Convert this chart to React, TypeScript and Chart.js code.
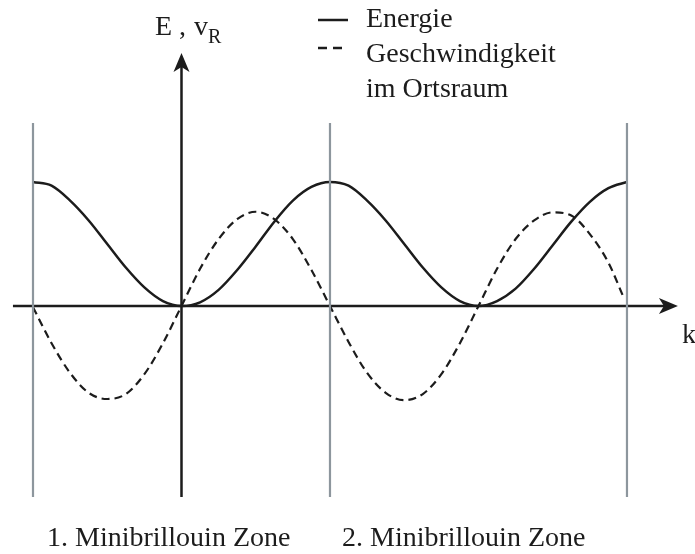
import React, { useEffect, useRef } from "react";
import { Chart, registerables } from "chart.js";

Chart.register(...registerables);

// wave vector k (in units of pi/a)
const K_E = [
  -1, -0.875, -0.75, -0.625, -0.5, -0.375, -0.25, -0.125, 0,
  0.125, 0.25, 0.375, 0.5, 0.625, 0.75, 0.875, 1,
  1.125, 1.25, 1.375, 1.5, 1.625, 1.75, 1.875, 2,
  2.125, 2.25, 2.375, 2.5, 2.625, 2.75, 2.875, 3,
];
// Energie
const ENERGIE = [
  1.0, 0.97, 0.85, 0.69, 0.5, 0.31, 0.15, 0.04, 0.0,
  0.03, 0.13, 0.29, 0.48, 0.68, 0.85, 0.96, 1.0,
  0.97, 0.85, 0.69, 0.5, 0.31, 0.15, 0.04, 0.0,
  0.04, 0.14, 0.3, 0.49, 0.68, 0.84, 0.95, 1.0,
];
const K_V = [
  -1, -0.875, -0.75, -0.625, -0.5, -0.375, -0.25, -0.125, 0,
  0.125, 0.25, 0.375, 0.5, 0.625, 0.75, 0.875, 1,
  1.125, 1.25, 1.375, 1.5, 1.625, 1.75, 1.875, 2,
  2.125, 2.25, 2.375, 2.5, 2.625, 2.75, 2.875, 2.97,
];
// Geschwindigkeit im Ortsraum
const GESCHW = [
  -0.01, -0.3, -0.54, -0.7, -0.75, -0.71, -0.55, -0.3, 0,
  0.3, 0.54, 0.7, 0.76, 0.7, 0.54, 0.29, 0,
  -0.29, -0.54, -0.7, -0.76, -0.71, -0.55, -0.3, 0,
  0.3, 0.54, 0.69, 0.755, 0.73, 0.58, 0.35, 0.09,
];
// Minibrillouin zone boundaries
const ZONE_K = [-1, 1, 3];
const ZONE_Y = [-1.54, 1.476];
const X_AXIS = [-1.135, 3.343];
const Y_AXIS = [-1.54, 2.04];

const LABEL_Y = ["E", ",", "v"];
const LABEL_Y_SUB = "R";
const LABEL_X = "k";
const LEGEND = ["Energie", "Geschwindigkeit", "im Ortsraum"];
const ZONES = ["1. Minibrillouin Zone", "2. Minibrillouin Zone"];

const INK = "#1c1c1c";
const GRAY = "#8d969d";
const FONT = "'Liberation Serif', 'Times New Roman', serif";

function arrow(ctx: CanvasRenderingContext2D, tx: number, ty: number, dx: number, dy: number) {
  const len = 19, half = 8, notch = 5;
  const px = -dy, py = dx;
  ctx.beginPath();
  ctx.moveTo(tx, ty);
  ctx.lineTo(tx - dx * len + px * half, ty - dy * len + py * half);
  ctx.lineTo(tx - dx * (len - notch), ty - dy * (len - notch));
  ctx.lineTo(tx - dx * len - px * half, ty - dy * len - py * half);
  ctx.closePath();
  ctx.fill();
}

const axesPlugin = {
  id: "axesPlugin",
  beforeDatasetsDraw(chart: any) {
    const { ctx } = chart;
    const xs = chart.scales.x, ys = chart.scales.y;
    const y0 = ys.getPixelForValue(0);
    const x0 = xs.getPixelForValue(0);
    const xa = xs.getPixelForValue(X_AXIS[0]);
    const xb = xs.getPixelForValue(X_AXIS[1]);
    const ya = ys.getPixelForValue(Y_AXIS[0]);
    const yb = ys.getPixelForValue(Y_AXIS[1]);
    ctx.save();
    ctx.strokeStyle = INK;
    ctx.fillStyle = INK;
    ctx.lineWidth = 2.5;
    ctx.beginPath();
    ctx.moveTo(xa, y0);
    ctx.lineTo(xb - 12, y0);
    ctx.moveTo(x0, ya);
    ctx.lineTo(x0, yb + 12);
    ctx.stroke();
    arrow(ctx, xb, y0, 1, 0);
    arrow(ctx, x0, yb, 0, -1);
    ctx.restore();
  },
  afterDraw(chart: any) {
    const { ctx } = chart;
    ctx.save();
    ctx.fillStyle = INK;
    ctx.textBaseline = "alphabetic";
    ctx.font = `28px ${FONT}`;
    ctx.fillText(LABEL_Y[0], 155, 35);
    ctx.fillText(LABEL_Y[1], 179, 35);
    ctx.fillText(LABEL_Y[2], 194, 35);
    const w = ctx.measureText(LABEL_Y[2]).width;
    ctx.font = `20px ${FONT}`;
    ctx.fillText(LABEL_Y_SUB, 194 + w, 43);
    ctx.font = `28px ${FONT}`;
    ctx.fillText(LABEL_X, 682, 343);
    // legend
    ctx.fillText(LEGEND[0], 366, 27);
    ctx.fillText(LEGEND[1], 366, 62);
    ctx.fillText(LEGEND[2], 366, 97);
    ctx.strokeStyle = INK;
    ctx.lineWidth = 2.5;
    ctx.beginPath();
    ctx.moveTo(318, 20);
    ctx.lineTo(348, 20);
    ctx.stroke();
    ctx.setLineDash([9, 6]);
    ctx.beginPath();
    ctx.moveTo(318, 48);
    ctx.lineTo(348, 48);
    ctx.stroke();
    ctx.setLineDash([]);
    ctx.fillText(ZONES[0], 47, 546);
    ctx.fillText(ZONES[1], 342, 546);
    ctx.restore();
  },
};

export default function App() {
  const ref = useRef<HTMLCanvasElement | null>(null);
  useEffect(() => {
    if (!ref.current) return;
    const zoneSets = ZONE_K.map((k) => ({
      data: ZONE_Y.map((y) => ({ x: k, y })),
      borderColor: GRAY,
      borderWidth: 2.2,
      pointRadius: 0,
      fill: false,
    }));
    const chart = new Chart(ref.current, {
      type: "line",
      data: {
        datasets: [
          ...zoneSets,
          {
            label: LEGEND[0],
            data: K_E.map((k, i) => ({ x: k, y: ENERGIE[i] })),
            borderColor: INK,
            borderWidth: 2.5,
            pointRadius: 0,
            cubicInterpolationMode: "monotone",
            fill: false,
          },
          {
            label: LEGEND[1] + " " + LEGEND[2],
            data: K_V.map((k, i) => ({ x: k, y: GESCHW[i] })),
            borderColor: INK,
            borderWidth: 2.2,
            borderDash: [8, 5],
            pointRadius: 0,
            cubicInterpolationMode: "monotone",
            fill: false,
          },
        ] as any,
      },
      options: {
        animation: false,
        responsive: false,
        devicePixelRatio: 1,
        layout: { padding: { left: 3.3, right: 1.2, top: 8.4, bottom: 12.4 } },
        plugins: { legend: { display: false }, tooltip: { enabled: false }, title: { display: false } },
        events: [],
        scales: {
          x: { type: "linear", min: -1.2, max: 3.45, display: false },
          y: { type: "linear", min: -1.9, max: 2.4, display: false },
        },
      },
      plugins: [axesPlugin],
    });
    return () => chart.destroy();
  }, []);
  return (
    <div style={{ position: "absolute", left: 0, top: 0, width: 695, height: 554, background: "#fff" }}>
      <canvas ref={ref} width={695} height={554} style={{ width: 695, height: 554, display: "block" }} />
    </div>
  );
}
